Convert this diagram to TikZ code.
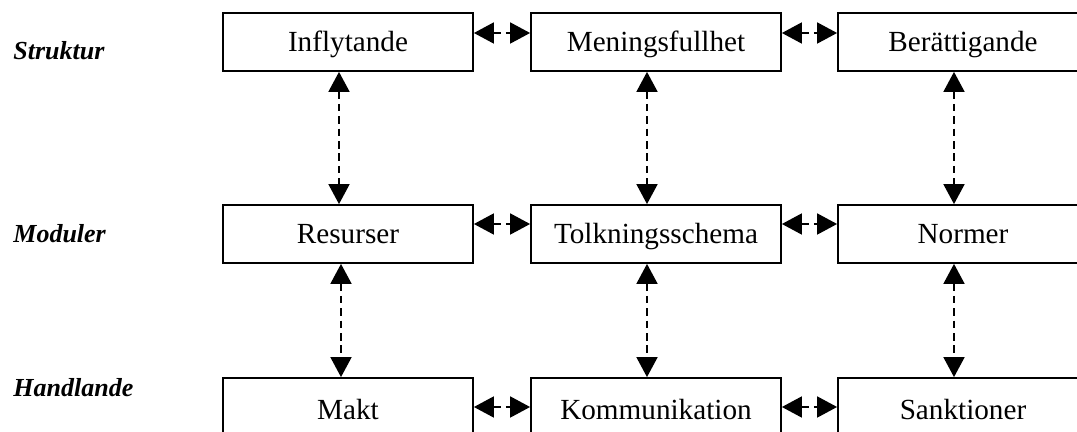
\documentclass[tikz,border=0pt]{standalone}
\usepackage{fontspec}
\setmainfont{Liberation Serif}
\usetikzlibrary{arrows.meta}
\tikzset{
  modbox/.style={draw, line width=0.9pt, minimum width=125pt, minimum height=29pt, inner sep=0pt, text height=12pt, text depth=2pt, font=\fontsize{14.6}{17}\selectfont},
  nivalabel/.style={anchor=base west, inner sep=0pt, font=\fontsize{13}{15}\selectfont\bfseries\itshape},
  dubbelpil/.style={{Triangle[length=10pt,width=10.5pt]}-{Triangle[length=10pt,width=10.5pt]}, dash pattern=on 3.8pt off 2.4pt, line width=0.9pt}
}
\begin{document}
\begin{tikzpicture}[x=0.5pt,y=-0.5pt]
\useasboundingbox (0,0) rectangle (1077,432);
% niva
\node [nivalabel] (struktur) at (13,60) {Struktur};
\node [nivalabel] (moduler) at (13,243) {Moduler};
\node [nivalabel] (handlande) at (13,397) {Handlande};
% rutor
\node [modbox] (inflytande) at (348,42) {Inflytande};
\node [modbox] (meningsfullhet) at (656,42) {Meningsfullhet};
\node [modbox] (berattigande) at (963,42) {Berättigande};
\node [modbox] (resurser) at (348,234) {Resurser};
\node [modbox] (tolkning) at (656,234) {Tolkningsschema};
\node [modbox] (normer) at (963,234) {Normer};
\node [modbox, minimum height=32pt] (makt) at (348,410) {Makt};
\node [modbox, minimum height=32pt] (kommunikation) at (656,410) {Kommunikation};
\node [modbox, minimum height=32pt] (sanktioner) at (963,410) {Sanktioner};
% pilar
\draw [dubbelpil] ([yshift=4.5pt]inflytande.east) -- ([yshift=4.5pt]meningsfullhet.west);
\draw [dubbelpil] ([yshift=4.5pt]meningsfullhet.east) -- ([yshift=4.5pt]berattigande.west);
\draw [dubbelpil] ([yshift=5pt]resurser.east) -- ([yshift=5pt]tolkning.west);
\draw [dubbelpil] ([yshift=5pt]tolkning.east) -- ([yshift=5pt]normer.west);
\draw [dubbelpil] ([yshift=1.5pt]makt.east) -- ([yshift=1.5pt]kommunikation.west);
\draw [dubbelpil] ([yshift=1.5pt]kommunikation.east) -- ([yshift=1.5pt]sanktioner.west);
\draw [dubbelpil] ([xshift=-4.5pt]inflytande.south) -- ([xshift=-4.5pt]resurser.north);
\draw [dubbelpil] ([xshift=-4.5pt]meningsfullhet.south) -- ([xshift=-4.5pt]tolkning.north);
\draw [dubbelpil] ([xshift=-4.5pt]berattigande.south) -- ([xshift=-4.5pt]normer.north);
\draw [dubbelpil] ([xshift=-3.5pt]resurser.south) -- ([xshift=-3.5pt]makt.north);
\draw [dubbelpil] ([xshift=-4.5pt]tolkning.south) -- ([xshift=-4.5pt]kommunikation.north);
\draw [dubbelpil] ([xshift=-4.5pt]normer.south) -- ([xshift=-4.5pt]sanktioner.north);
\end{tikzpicture}
\end{document}
